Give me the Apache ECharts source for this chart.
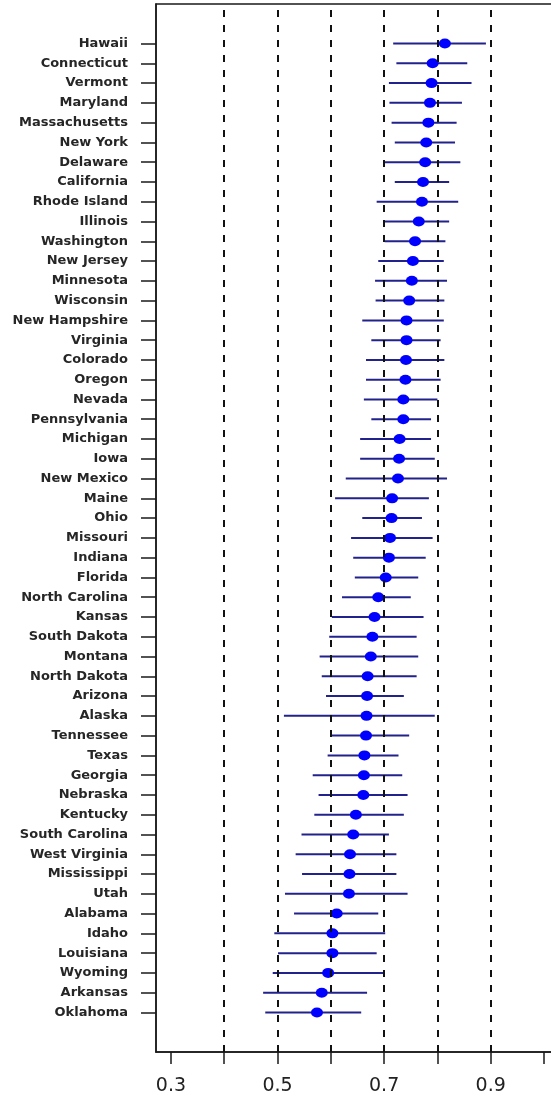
<!DOCTYPE html>
<html>
<head>
<meta charset="utf-8">
<title>State estimates with intervals</title>
<script src="https://cdn.jsdelivr.net/npm/echarts@6/dist/echarts.min.js"></script>
<style>
  html, body { margin: 0; padding: 0; background: #ffffff; }
  #chart { width: 551px; height: 1099px; }
</style>
</head>
<body>
<div id="chart"></div>
<script>
// States, ordered from highest to lowest estimate
const states = [
  'Hawaii', 'Connecticut', 'Vermont', 'Maryland', 'Massachusetts', 'New York',
  'Delaware', 'California', 'Rhode Island', 'Illinois', 'Washington', 'New Jersey',
  'Minnesota', 'Wisconsin', 'New Hampshire', 'Virginia', 'Colorado', 'Oregon',
  'Nevada', 'Pennsylvania', 'Michigan', 'Iowa', 'New Mexico', 'Maine', 'Ohio',
  'Missouri', 'Indiana', 'Florida', 'North Carolina', 'Kansas', 'South Dakota',
  'Montana', 'North Dakota', 'Arizona', 'Alaska', 'Tennessee', 'Texas', 'Georgia',
  'Nebraska', 'Kentucky', 'South Carolina', 'West Virginia', 'Mississippi', 'Utah',
  'Alabama', 'Idaho', 'Louisiana', 'Wyoming', 'Arkansas', 'Oklahoma'
];

// Point estimates
const estimate = [
  0.814, 0.791, 0.789, 0.786, 0.783, 0.779,
  0.777, 0.773, 0.771, 0.765, 0.758, 0.754,
  0.752, 0.747, 0.742, 0.742, 0.741, 0.740,
  0.736, 0.736, 0.729, 0.728, 0.726, 0.715, 0.714,
  0.711, 0.709, 0.703, 0.689, 0.682, 0.678,
  0.675, 0.669, 0.668, 0.667, 0.666, 0.663, 0.662,
  0.661, 0.647, 0.642, 0.636, 0.635, 0.634,
  0.611, 0.603, 0.603, 0.595, 0.583, 0.574
];

// Lower interval bounds
const lower = [
  0.717, 0.723, 0.709, 0.710, 0.714, 0.720,
  0.700, 0.720, 0.686, 0.701, 0.701, 0.689,
  0.683, 0.684, 0.659, 0.676, 0.666, 0.666,
  0.662, 0.676, 0.655, 0.655, 0.628, 0.608, 0.659,
  0.638, 0.642, 0.645, 0.621, 0.602, 0.597,
  0.579, 0.583, 0.591, 0.512, 0.602, 0.594, 0.566,
  0.577, 0.569, 0.545, 0.534, 0.546, 0.514,
  0.531, 0.494, 0.501, 0.491, 0.473, 0.477
];

// Upper interval bounds
const upper = [
  0.891, 0.856, 0.864, 0.846, 0.836, 0.833,
  0.843, 0.822, 0.839, 0.822, 0.815, 0.812,
  0.818, 0.813, 0.812, 0.806, 0.813, 0.806,
  0.800, 0.788, 0.788, 0.795, 0.818, 0.784, 0.771,
  0.791, 0.778, 0.764, 0.750, 0.774, 0.761,
  0.764, 0.761, 0.737, 0.795, 0.747, 0.727, 0.734,
  0.744, 0.737, 0.709, 0.723, 0.723, 0.744,
  0.689, 0.702, 0.686, 0.698, 0.668, 0.657
];

// Axis tick positions and the subset that carries labels
const xTicks = [0.3, 0.4, 0.5, 0.6, 0.7, 0.8, 0.9, 1.0];
const xTickLabels = [0.3, 0.5, 0.7, 0.9];
const refLines = [0.4, 0.5, 0.6, 0.7, 0.8, 0.9];

// Row position: first state at the top
const n = states.length;
const rowOf = i => n - i;
const rows = states.map((_, i) => rowOf(i));

const pointData = states.map((s, i) => [estimate[i], rowOf(i)]);
const barData = states.map((s, i) => [lower[i], upper[i], rowOf(i)]);

const FONT = 'DejaVu Sans';
const INK = '#1a1a1a';

const chart = echarts.init(document.getElementById('chart'), null, { renderer: 'canvas' });

chart.setOption({
  animation: false,
  backgroundColor: '#ffffff',
  grid: {
    left: 156,
    top: 4,
    width: 420,
    height: 1048,
    outerBoundsMode: 'none',
    containLabel: false,
    show: true,
    borderColor: INK,
    borderWidth: 1.5,
    backgroundColor: 'transparent'
  },
  xAxis: {
    type: 'value',
    min: 0.272,
    max: 1.06,
    axisLine: { show: true, onZero: false, lineStyle: { color: INK, width: 1.5 } },
    axisTick: {
      show: true,
      customValues: xTicks,
      length: 12,
      lineStyle: { color: INK, width: 1.5 }
    },
    axisLabel: {
      customValues: xTickLabels,
      formatter: v => v.toFixed(1),
      margin: 25,
      fontFamily: FONT,
      fontSize: 19,
      color: '#222'
    },
    splitLine: { show: false }
  },
  yAxis: {
    type: 'value',
    min: -1,
    max: 52,
    axisLine: { show: true, onZero: false, lineStyle: { color: INK, width: 1.5 } },
    axisTick: {
      show: true,
      customValues: rows,
      length: 15,
      lineStyle: { color: INK, width: 1.5 }
    },
    axisLabel: {
      customValues: rows,
      formatter: v => states[n - v] || '',
      margin: 28,
      fontFamily: FONT,
      fontSize: 13,
      fontWeight: 'bold',
      color: '#262626'
    },
    splitLine: { show: false }
  },
  series: [
    {
      // interval bars
      type: 'custom',
      silent: true,
      data: barData,
      encode: { x: [0, 1], y: 2 },
      renderItem: (params, api) => {
        const a = api.coord([api.value(0), api.value(2)]);
        const b = api.coord([api.value(1), api.value(2)]);
        return {
          type: 'line',
          shape: { x1: a[0], y1: a[1], x2: b[0], y2: b[1] },
          style: { stroke: '#22228c', lineWidth: 2 }
        };
      },
      markLine: {
        silent: true,
        symbol: 'none',
        label: { show: false },
        lineStyle: { color: '#111', width: 2, type: [7, 8] },
        data: refLines.map(v => ({ xAxis: v }))
      },
      z: 2
    },
    {
      // point estimates
      type: 'scatter',
      silent: true,
      data: pointData,
      symbol: 'circle',
      symbolSize: [12, 10],
      itemStyle: { color: '#0000ff', opacity: 1 },
      z: 3
    }
  ]
});
</script>
</body>
</html>
